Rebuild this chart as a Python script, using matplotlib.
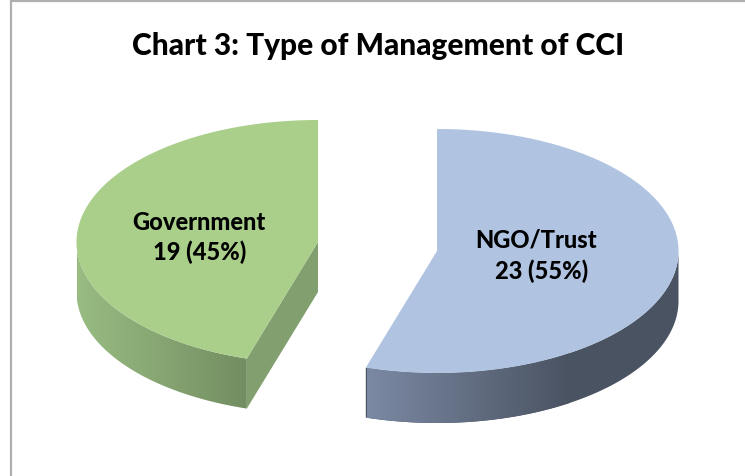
import numpy as np
import matplotlib
matplotlib.use("Agg")
import matplotlib.pyplot as plt
from matplotlib.colors import LinearSegmentedColormap
from matplotlib.patches import Polygon

categories = ["NGO/Trust", "Government"]
counts = [23, 19]
title = "Chart 3: Type of Management of CCI"

plt.rcParams['font.family'] = ['Lato', 'DejaVu Sans']

W, H = 745, 477
rx, ry = 241.5, 122
depth = 50
centers = [(437, 252), (318, 243)]
top_colors = ["#b0c4e2", "#a9cf8a"]
cut_color = "#819f6f"
wall_ramps = [("#7b89a3", "#4a5362", 367, 570), ("#98bc82", "#738e62", 77, 247)]
label_pos = [[(536, 240), (542, 271)], [(199, 222.5), (199.5, 252)]]

fig = plt.figure(figsize=(W / 100, H / 100), dpi=100)
ax = fig.add_axes([0, 0, 1, 1])
ax.set_xlim(0, W)
ax.set_ylim(H, 0)
ax.axis("off")

# chart frame, cut by the page on the right and bottom
ax.plot([10.5, 10.5, W], [H, 2, 2], color="#b0b0b0", lw=1.6, solid_joinstyle="miter")


def ellipse(c, a):
    # angle a is clockwise from 12 o'clock
    return np.column_stack([c[0] + rx * np.sin(a), c[1] - ry * np.cos(a)])


total = sum(counts)
start = 0.0
for i, v in enumerate(counts):
    a0 = start
    a1 = start + v / total * 2 * np.pi
    start = a1
    c = centers[i]

    # outer wall, only the front half shows
    w0, w1 = max(a0, np.pi / 2), min(a1, 3 * np.pi / 2)
    arc = ellipse(c, np.linspace(w0, w1, 200))
    wall = np.vstack([arc, (arc + [0, depth])[::-1]])
    poly = Polygon(wall, closed=True, fc="none", ec="none")
    ax.add_patch(poly)
    c0, c1, x0, x1 = wall_ramps[i]
    cmap = LinearSegmentedColormap.from_list("w", [c0, c1])
    im = ax.imshow(np.linspace(0, 1, 256)[None, :], cmap=cmap, aspect="auto",
                   extent=[x0, x1, H, 0], zorder=1)
    im.set_clip_path(poly)
    if x1 < wall[:, 0].max():
        # past the end of the ramp the wall stays dark
        pad = Polygon(wall, closed=True, fc=c1, ec="none", zorder=0.5)
        ax.add_patch(pad)
    ax.set_xlim(0, W)
    ax.set_ylim(H, 0)

    # cut face of the slice that opens towards the viewer
    if i == 1:
        corner = ellipse(c, np.array([a0]))[0]
        face = [c, corner, corner + [0, depth], (c[0], c[1] + depth)]
        ax.add_patch(Polygon(face, closed=True, fc=cut_color, ec="none", zorder=2))

    # top of the slice
    top = np.vstack([[c], ellipse(c, np.linspace(a0, a1, 400))])
    ax.add_patch(Polygon(top, closed=True, fc=top_colors[i], ec="none", zorder=3))

    pct = round(v / total * 100)
    lines = [categories[i], f"{v} ({pct}%)"]
    for txt, (x, y) in zip(lines, label_pos[i]):
        ax.text(x, y, txt, ha="center", va="center", fontsize=17,
                fontweight="black", color="black", zorder=4)

ax.text(378, 45.5, title, ha="center", va="center", fontsize=21.5,
        fontweight="black", color="black")

fig.savefig("out.png", dpi=100)
